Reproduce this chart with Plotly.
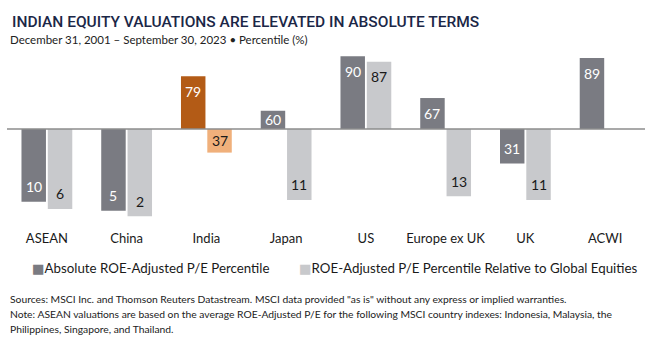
import plotly.graph_objects as go

# ---- data -------------------------------------------------------------
categories = ["ASEAN", "China", "India", "Japan", "US", "Europe ex UK", "UK", "ACWI"]
absolute_pct = [10, 5, 79, 60, 90, 67, 31, 89]
relative_pct = [6, 2, 37, 11, 87, 13, 11, None]
series_names = [
    "Absolute ROE-Adjusted P/E Percentile",
    "ROE-Adjusted P/E Percentile Relative to Global Equities",
]
MIDPOINT = 50  # bars are drawn up/down from the median percentile

# ---- styling ----------------------------------------------------------
W, H = 671, 344
ML, MR, MT, MB = 7, 26, 38, 115
DARK = "#7a7b82"
LIGHT = "#c8c9cc"
DARK_HI = "#b35b16"
LIGHT_HI = "#f0b07b"
HIGHLIGHT = "India"
BODY_FONT = "Lato"
TITLE_FONT = "Roboto"
BARGAP = 0.34
GROUPGAP = 0.07

dark_colors = [DARK_HI if c == HIGHLIGHT else DARK for c in categories]
light_colors = [LIGHT_HI if c == HIGHLIGHT else LIGHT for c in categories]
xs = list(range(len(categories)))

fig = go.Figure()
fig.add_bar(
    x=xs, y=[v - MIDPOINT for v in absolute_pct], base=MIDPOINT,
    name=series_names[0], marker=dict(color=dark_colors, line=dict(width=0)),
    hoverinfo="skip",
)
fig.add_bar(
    x=xs, y=[None if v is None else v - MIDPOINT for v in relative_pct], base=MIDPOINT,
    name=series_names[1], marker=dict(color=light_colors, line=dict(width=0)),
    hoverinfo="skip",
)

# value labels placed just inside the end of each bar
slot = (1 - BARGAP) / 2
annotations = []
for offset, vals, txt_color in ((-slot / 2, absolute_pct, "white"), (slot / 2, relative_pct, "#1a1a1a")):
    for i, v in enumerate(vals):
        if v is None:
            continue
        sign = 1 if v >= MIDPOINT else -1
        inset = min(8.3, abs(v - MIDPOINT) / 2)
        annotations.append(dict(
            x=i + offset, y=v - sign * inset, xref="x", yref="y",
            text=str(v), showarrow=False,
            font=dict(family=BODY_FONT, size=14, color=txt_color),
            xanchor="center", yanchor="middle",
        ))

plot_w = W - ML - MR
plot_h = H - MT - MB


def px(p):
    return (p - ML) / plot_w


def py(p):
    return (H - MB - p) / plot_h


def text_note(x, y, text, size, color, family=BODY_FONT, weight=None):
    f = dict(family=family, size=size, color=color)
    if weight:
        f["weight"] = weight
    annotations.append(dict(
        x=px(x), y=py(y), xref="paper", yref="paper", text=text,
        showarrow=False, xanchor="left", yanchor="middle", font=f,
    ))


text_note(10, 21.5, "INDIAN EQUITY VALUATIONS ARE ELEVATED IN ABSOLUTE TERMS", 15.5, "#1b2747",
          family=TITLE_FONT, weight=500)
text_note(8, 39.5, "December 31, 2001 – September 30, 2023 • Percentile (%)", 11.5, "#222222")

# legend
for x0, name, color in ((30, series_names[0], DARK), (297, series_names[1], LIGHT)):
    text_note(
        x0, 268,
        f'<span style="color:{color};font-family:DejaVu Sans">■</span>{name}',
        13.3, "#1a1a1a",
    )

footer = [
    'Sources: MSCI Inc. and Thomson Reuters Datastream. MSCI data provided "as is" without any express or implied warranties.',
    "Note: ASEAN valuations are based on the average ROE-Adjusted P/E for the following MSCI country indexes: Indonesia, Malaysia, the",
    "Philippines, Singapore, and Thailand.",
]
for k, line in enumerate(footer):
    text_note(8, 299 + 15 * k, line, 10.3, "#222222")

fig.update_layout(
    width=W, height=H,
    margin=dict(l=ML, r=MR, t=MT, b=MB, pad=0),
    barmode="group", bargap=BARGAP, bargroupgap=GROUPGAP,
    plot_bgcolor="white", paper_bgcolor="white",
    showlegend=False,
    annotations=annotations,
    shapes=[dict(type="line", xref="paper", x0=0, x1=1, yref="y", y0=MIDPOINT, y1=MIDPOINT,
                 line=dict(color="#8c8c8c", width=1.5), layer="above")],
    xaxis=dict(
        range=[-0.5, len(categories) - 0.5], tickvals=xs, ticktext=categories,
        showgrid=False, zeroline=False, showline=False, ticks="",
        tickfont=dict(family=BODY_FONT, size=13, color="#1a1a1a"),
        ticklabelstandoff=0,
    ),
    yaxis=dict(range=[-5, 100], visible=False, showgrid=False, zeroline=False),
)

fig.write_html("out.html")
